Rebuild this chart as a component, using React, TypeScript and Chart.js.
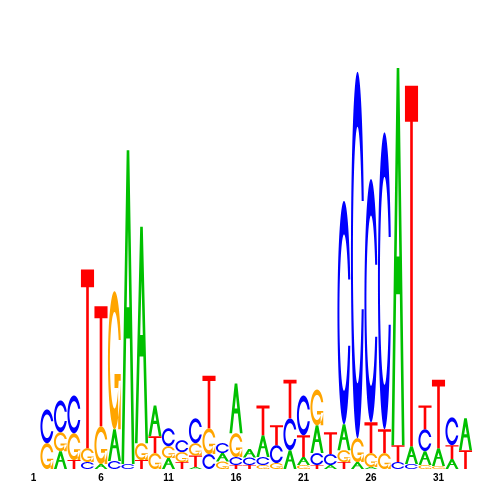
import React, { useEffect, useRef } from "react";
import { Chart, registerables } from "chart.js";
Chart.register(...registerables);

// Sequence positions (categories)
const positions = ["1","2","3","4","5","6","7","8","9","10","11","12","13","14","15","16","17","18","19","20","21","22","23","24","25","26","27","28","29","30","31","32","33"];
const shownTicks = ["1","6","11","16","21","26","31"];

// Letter heights (bits) per position
const heightA = [0,0,0.09,0,0,0.025,0.16,1.58,1.09,0.155,0.055,0,0.01,0,0.043,0.25,0.043,0.11,0,0.095,0.04,0.14,0.02,0.13,0.035,0.01,0,1.9,0.09,0.07,0.09,0.05,0.16];
const heightC = [0,0.17,0.16,0.19,0.035,0,0.04,0.025,0,0,0.09,0.06,0.125,0.075,0.05,0.04,0.0375,0.04,0.09,0.16,0.2,0.06,0.055,1.125,1.845,1.225,1.495,0.035,0.025,0.11,0,0.14,0];
const heightG = [0,0.13,0.095,0.135,0.07,0.19,0.695,0,0.085,0.08,0.06,0.05,0.0625,0.13,0.0375,0.12,0,0.02,0.03,0,0.02,0.18,0,0.06,0.12,0.07,0.08,0,0,0.02,0.015,0,0];
const heightT = [0,0,0,0.045,0.9,0.605,0,0,0.045,0.085,0,0.035,0.0575,0.265,0,0.02,0.02,0.15,0.1,0.195,0.11,0.02,0.11,0.035,0,0.155,0.12,0.085,1.815,0.12,0.345,0.07,0.095];

const letters = ["A", "C", "G", "T"];
const letterColors: Record<string, string> = { A: "#00C000", C: "#0000FF", G: "#FFA500", T: "#FF0000" };
const yMax = 2.1;

type Pt = [number, number];

function seq(a: number, b: number, n: number) {
  const out: number[] = [];
  for (let i = 0; i < n; i++) out.push(a + ((b - a) * i) / (n - 1));
  return out;
}

function cShape(): Pt[] {
  const a1 = seq(0.3 + Math.PI / 2, Math.PI, 100);
  const a2 = seq(Math.PI, 1.5 * Math.PI, 100);
  const xl1 = a1.map((a) => 0.5 + 0.5 * Math.sin(a));
  const yl1 = a1.map((a) => 0.5 + 0.5 * Math.cos(a));
  const xl2 = a2.map((a) => 0.5 + 0.5 * Math.sin(a));
  const yl2 = a2.map((a) => 0.5 + 0.5 * Math.cos(a));
  const xl = [...xl1, ...xl2];
  const yl = [...yl1, ...yl2];
  const xo = [...xl, ...[...xl].reverse()];
  const yo = [...yl, ...[...yl].reverse().map((v) => 1 - v)];
  const maxY = Math.max(...yl1);
  let xi1 = a1.map((a) => 0.5 + 0.35 * Math.sin(a));
  let yi1 = a1.map((a) => 0.5 + 0.35 * Math.cos(a));
  const keep = yi1.map((v) => v <= maxY);
  xi1 = xi1.filter((_, i) => keep[i]);
  yi1 = yi1.filter((_, i) => keep[i]);
  yi1[0] = maxY;
  const xi2 = a2.map((a) => 0.5 + 0.35 * Math.sin(a));
  const yi2 = a2.map((a) => 0.5 + 0.35 * Math.cos(a));
  const xi = [...xi1, ...xi2];
  const yi = [...yi1, ...yi2];
  const x1 = [...xi, ...[...xi].reverse()];
  const y1 = [...yi, ...[...yi].reverse().map((v) => 1 - v)];
  const x = [...xo, ...[...x1].reverse()];
  const y = [...yo, ...[...y1].reverse()];
  return x.map((v, i) => [v, y[i]] as Pt);
}

const C_POLY = cShape();
const R1 = 0.5 + 0.5 * Math.sin(0.3 + Math.PI / 2);
const G_BAR: Pt[] = [[R1, 0.4], [0.5, 0.4], [0.5, 0.3], [R1 - 0.2, 0.3], [R1 - 0.2, 0], [R1, 0]];
const A_OUT: Pt[] = [[0, 0], [0.4, 1], [0.6, 1], [1, 0], [0.8, 0], [0.64, 0.4], [0.36, 0.4], [0.2, 0]];
const A_HOLE: Pt[] = [[0.4, 0.5], [0.5, 0.75], [0.6, 0.5]];
const T_POLY: Pt[] = [[0, 1], [1, 1], [1, 0.9], [0.6, 0.9], [0.6, 0], [0.4, 0], [0.4, 0.9], [0, 0.9]];

function shapesFor(l: string): Pt[][] {
  if (l === "A") return [A_OUT, A_HOLE];
  if (l === "C") return [C_POLY];
  if (l === "G") return [C_POLY, G_BAR];
  return [T_POLY];
}

// Build stacks: smallest letter at the bottom
const stacks = positions.map((_, p) =>
  letters
    .map((l) => ({ l, h: ({ A: heightA, C: heightC, G: heightG, T: heightT } as Record<string, number[]>)[l][p] }))
    .filter((e) => e.h > 0)
    .sort((a, b) => a.h - b.h)
);
const maxRank = Math.max(...stacks.map((s) => s.length));

const letterPlugin = {
  id: "letterPlugin",
  afterDatasetsDraw(chart: any) {
    const ctx = chart.ctx as CanvasRenderingContext2D;
    chart.data.datasets.forEach((ds: any, di: number) => {
      const meta = chart.getDatasetMeta(di);
      meta.data.forEach((el: any, i: number) => {
        const l = ds.letterOf[i];
        if (!l) return;
        const { x, y, base, width } = el.getProps(["x", "y", "base", "width"], true);
        const h = base - y;
        if (!(h > 0)) return;
        const left = x - width / 2;
        ctx.save();
        ctx.fillStyle = letterColors[l];
        ctx.beginPath();
        const polys = shapesFor(l);
        polys.forEach((poly, k) => {
          if (l === "A" && k === 1) return;
          poly.forEach(([ux, uy], j) => {
            const px = left + ux * width;
            const py = base - uy * h;
            if (j === 0) ctx.moveTo(px, py);
            else ctx.lineTo(px, py);
          });
          ctx.closePath();
        });
        if (l === "A") {
          A_HOLE.forEach(([ux, uy], j) => {
            const px = left + ux * width;
            const py = base - uy * h;
            if (j === 0) ctx.moveTo(px, py);
            else ctx.lineTo(px, py);
          });
          ctx.closePath();
          ctx.fill("evenodd");
        } else {
          ctx.fill("nonzero");
        }
        ctx.restore();
      });
    });
  },
};

export default function App() {
  const ref = useRef<HTMLCanvasElement | null>(null);
  useEffect(() => {
    if (!ref.current) return;
    const datasets = [];
    for (let r = 0; r < maxRank; r++) {
      datasets.push({
        label: "rank" + r,
        data: stacks.map((s) => (s[r] ? s[r].h : 0)),
        letterOf: stacks.map((s) => (s[r] ? s[r].l : null)),
        backgroundColor: "rgba(0,0,0,0)",
        borderWidth: 0,
        barPercentage: 1,
        categoryPercentage: 0.97,
      } as any);
    }
    const chart = new Chart(ref.current, {
      type: "bar",
      data: { labels: positions, datasets },
      options: {
        responsive: false,
        animation: false,
        devicePixelRatio: 1,
        layout: { padding: { left: 26.75, right: 27.75, top: 52, bottom: 13 } },
        plugins: { legend: { display: false }, tooltip: { enabled: false } },
        scales: {
          x: {
            stacked: true,
            grid: { display: false, drawTicks: false },
            border: { display: false },
            ticks: {
              autoSkip: false,
              maxRotation: 0,
              padding: 3,
              color: "#000",
              font: { family: "Liberation Sans", size: 10, weight: "bold" },
              callback: (_v: any, i: number) => (shownTicks.includes(positions[i]) ? positions[i] : ""),
            },
          },
          y: { stacked: true, display: false, min: 0, max: yMax },
        },
      } as any,
      plugins: [letterPlugin],
    });
    return () => chart.destroy();
  }, []);
  return (
    <div style={{ position: "fixed", left: 0, top: 0, width: 500, height: 500, background: "#fff" }}>
      <canvas ref={ref} width={500} height={500} />
    </div>
  );
}
